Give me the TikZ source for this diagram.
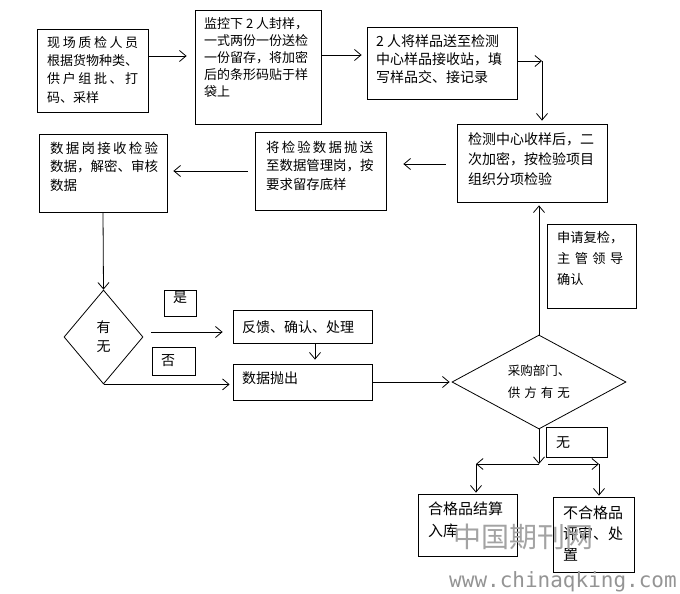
\documentclass[tikz,border=0pt]{standalone}
\usepackage{fontspec}
\newfontfamily\cjk{Noto Sans CJK SC}
\newfontfamily\wmmono{DejaVu Sans Mono}
\usetikzlibrary{arrows.meta,shapes.geometric,fit}
\newcommand\sprline[2]{\makebox[#1][s]{#2}}
\begin{document}
\begin{tikzpicture}[x=1pt,y=-1pt,
  box/.style={draw,line width=0.8pt,inner sep=0pt},
  txt/.style={inner sep=0pt,align=left,anchor=north west,font=\cjk\fontsize{14}{18.3}\selectfont},
  ctxt/.style={inner sep=0pt,font=\cjk\fontsize{14}{18.3}\selectfont},
  arr/.style={line width=0.8pt,-{Straight Barb[length=6.5pt,width=11pt,line width=0.8pt]}},
  dia/.style={draw,diamond,line width=0.8pt,inner sep=0pt}]
\useasboundingbox (0,0) rectangle (680,594);
% boxes
\node[box,fit={(37,29)(148,112)}] (b1) {};
\node[box,fit={(195,10)(321,124)}] (b2) {};
\node[box,fit={(367,27)(517,99)}] (b3) {};
\node[box,fit={(457,124)(607,202)}] (b4) {};
\node[box,fit={(255,132)(386,210)}] (b5) {};
\node[box,fit={(39,134)(167,212)}] (b6) {};
\node[dia,align=center,minimum width=79pt,minimum height=94pt,font=\cjk\fontsize{14}{19}\selectfont] (d1) at (103.5,337) {有\\无};
\node[box,fit={(164,290)(196,316)},font=\cjk\fontsize{14}{18}\selectfont] (yesb) {是};
\node[box,fit={(152,347)(195,375)}] (nob) {};
\node[box,fit={(233,310)(372,343)}] (fb) {};
\node[box,fit={(233,364)(372,400)}] (sc) {};
\node[dia,align=left,shape aspect=1.85,minimum width=174pt,minimum height=94pt,font=\cjk\fontsize{12.5}{22}\selectfont] (d2) at (539,382) {采购部门、\\供\hspace{4pt}方\hspace{4pt}有\hspace{4pt}无};
\node[box,fit={(547,224)(636,308)}] (fj) {};
\node[box,fit={(546,427)(607,457)}] (wub) {};
\node[box,fit={(418,494)(517,556)}] (ok) {};
\node[box,fit={(553,497)(634,572)}] (ng) {};
% texts
\node[txt,font=\cjk\fontsize{13}{18.3}\selectfont] (t1) at (47,36) {\sprline{91pt}{现\hfill 场\hfill 质\hfill 检\hfill 人\hfill 员}\\根据货物种类、\\\sprline{91pt}{供\hfill 户\hfill 组\hfill 批\hfill 、\hfill 打}\\码、采样};
\node[txt,font=\cjk\fontsize{13}{17}\selectfont] (t2) at (204,17) {监控下 2 人封样，\\一式两份一份送检\\一份留存，将加密\\后的条形码贴于样\\袋上};
\node[txt] (t3) at (376,34) {2 人将样品送至检测\\中心样品接收站，填\\写样品交、接记录};
\node[txt,font=\cjk\fontsize{14}{20}\selectfont] (t4) at (468,132) {检测中心收样后，二\\次加密，按检验项目\\组织分项检验};
\node[txt,font=\cjk\fontsize{13.4}{18.3}\selectfont] (t5) at (266,141) {\sprline{107pt}{将\hfill 检\hfill 验\hfill 数\hfill 据\hfill 抛\hfill 送}\\至数据管理岗，按\\要求留存底样};
\node[txt,font=\cjk\fontsize{13.5}{18.3}\selectfont] (t6) at (50,142) {\sprline{108pt}{数\hfill 据\hfill 岗\hfill 接\hfill 收\hfill 检\hfill 验}\\数据，解密、审核\\数据};
\node[txt,font=\cjk\fontsize{13.2}{21}\selectfont] (t7) at (557,231) {申请复检，\\\sprline{66pt}{主\hfill 管\hfill 领\hfill 导}\\确认};
\node[ctxt,anchor=west] (t8) at (242,327) {反馈、确认、处理};
\node[ctxt,anchor=west] (t9) at (242,378) {数据抛出};
\node[ctxt] (t10) at (168,361) {否};
\node[ctxt,anchor=west] (t11) at (556,443) {无};
\node[txt,font=\cjk\fontsize{15}{22}\selectfont] (t12) at (428,502) {合格品结算\\入库};
\node[txt,font=\cjk\fontsize{15}{21}\selectfont] (t13) at (563,506) {不合格品\\评审、处\\置};
% connectors
\coordinate (y56) at (0,56);
\coordinate (y55) at (0,55);
\draw[arr,shorten >=8pt] (b1.east |- y56) -- (b2.west |- y56);
\draw[arr,shorten >=5pt] (b2.east |- y55) -- (b3.west |- y55);
\coordinate (c3) at (542,61);
\draw[arr] (b3.east |- c3) -- (c3);
\draw[arr,shorten >=3pt] (c3) -- (c3 |- b4.north);
\coordinate (y164) at (0,164);
\draw[arr,shorten <=11pt,shorten >=17pt] (b4.west |- y164) -- (b5.east |- y164);
\coordinate (y171) at (0,171);
\draw[arr,shorten <=7pt,shorten >=6pt] (b5.west |- y171) -- (b6.east |- y171);
\draw[arr] (b6.south) -- (d1.north);
\coordinate (y332) at (0,332);
\draw[arr,shorten <=8pt,shorten >=10pt] (d1.east |- y332) -- (fb.west |- y332);
\draw[arr,shorten >=3pt] (d1.south) -- (sc.west |- d1.south);
\coordinate (x315) at (315,0);
\draw[arr,shorten >=4pt] (fb.south -| x315) -- (sc.north -| x315);
\draw[arr,shorten >=2pt] (sc.east) -- (d2.west);
\draw[arr,shorten >=3pt] (d2.north) -- (d2.north |- b4.south);
\coordinate (sp) at (539,464);
\coordinate (cl) at (476,464);
\coordinate (cr) at (599,464);
\draw[arr] (d2.south) -- (sp);
\draw[arr] (sp) -- (cl);
\draw[arr,shorten <=9pt] (sp) -- (cr);
\draw[arr,shorten >=1pt] (cl) -- (cl |- ok.north);
\draw[arr,shorten >=1pt] (cr) -- (cr |- ng.north);
% watermark
\node[inner sep=0pt,font=\cjk\fontsize{28}{28}\selectfont,text=black!36] (wm1) at (523,537) {中国期刊网};
\node[inner sep=0pt,font=\wmmono\fontsize{21}{21}\selectfont,text=black!42] (wm2) at (563,582) {www.chinaqking.com};
\end{tikzpicture}
\end{document}
